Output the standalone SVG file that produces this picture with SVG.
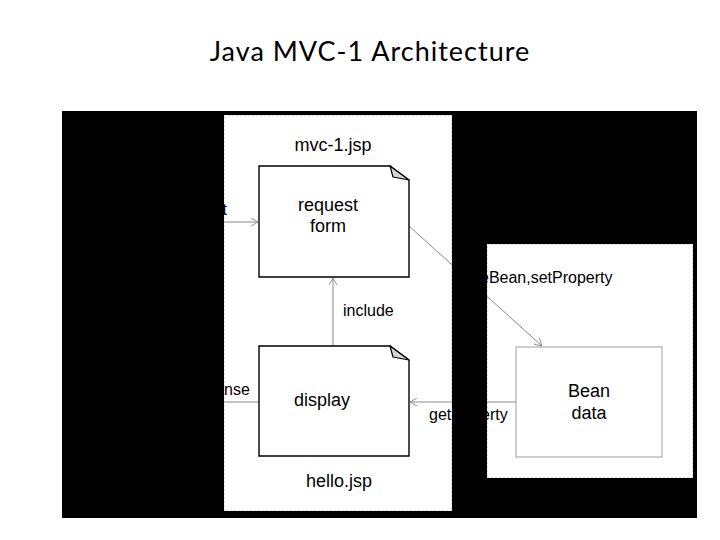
<svg xmlns="http://www.w3.org/2000/svg" width="720" height="540" viewBox="0 0 720 540">
<defs>
<style>
.t{font-family:"Liberation Sans",Arial,sans-serif;fill:#000}
.big{font-size:18px}
.sm{font-size:16px}
.note{fill:#fff;stroke:#000;stroke-width:1.4}
.fold{fill:#d4d4d4;stroke:#000;stroke-width:1.2;stroke-linejoin:round}
.con{fill:none;stroke:#8a8a8a;stroke-width:1}
.panel{fill:#fff;stroke:#bdbdbd;stroke-width:1;stroke-dasharray:2 2}
</style>
<marker id="open" viewBox="0 0 10 10" refX="9" refY="5" markerWidth="9" markerHeight="9" markerUnits="userSpaceOnUse" orient="auto">
<path d="M1,0.5 L9,5 L1,9.5" fill="none" stroke="#8a8a8a" stroke-width="1"/>
</marker>
</defs>
<rect width="720" height="540" fill="#fff"/>
<text class="t" x="370" y="61" text-anchor="middle" style="font-family:Lato,'Open Sans',sans-serif;font-size:27px;letter-spacing:1px">Java MVC-1 Architecture</text>
<rect x="62" y="111" width="635" height="407" fill="#000"/>
<rect id="panel-jsp" class="panel" x="224" y="115" width="228" height="396"/>
<rect id="panel-bean" class="panel" x="487" y="244" width="206" height="234"/>
<g id="connectors">
<line class="con" x1="200" y1="222" x2="258" y2="222" marker-end="url(#open)"/>
<line class="con" x1="333" y1="346" x2="333" y2="278" marker-end="url(#open)"/>
<line class="con" x1="259" y1="402" x2="200" y2="402"/>
<line class="con" x1="409" y1="226" x2="542" y2="346" marker-end="url(#open)"/>
<line class="con" x1="516" y1="402" x2="410" y2="402" marker-end="url(#open)"/>
</g>
<g id="labels">
<text class="t sm" x="222.5" y="215">t</text>
<text class="t sm" x="224" y="395">nse</text>
<text class="t sm" x="343" y="316">include</text>
<text class="t sm" x="480" y="283">eBean,setProperty</text>
<text class="t sm" x="429" y="420">get</text>
<text class="t sm" x="481" y="420">erty</text>
<text class="t big" x="333" y="151" text-anchor="middle">mvc-1.jsp</text>
<text class="t big" x="339" y="487" text-anchor="middle">hello.jsp</text>
</g>
<g id="request-form">
<path class="note" d="M259,166 H390 L409,180 V277 H259 Z"/>
<path class="fold" d="M390,166 L393,177 L409,180 Z"/>
<text class="t big" x="328" y="211" text-anchor="middle">request</text>
<text class="t big" x="328" y="232" text-anchor="middle">form</text>
</g>
<g id="display">
<path class="note" d="M259,346 H390 L409,360 V456 H259 Z"/>
<path class="fold" d="M390,346 L393,357 L409,360 Z"/>
<text class="t big" x="322" y="406" text-anchor="middle">display</text>
</g>
<g id="bean">
<rect x="516" y="347" width="146" height="110" fill="#fff" stroke="#a0a0a0" stroke-width="1"/>
<text class="t big" x="589" y="397" text-anchor="middle">Bean</text>
<text class="t big" x="589" y="419" text-anchor="middle">data</text>
</g>
<path d="M62,111 H697 V518 H62 Z M224,115 H452 V511 H224 Z M487,244 H693 V478 H487 Z" fill="#000" fill-rule="evenodd"/>
</svg>
